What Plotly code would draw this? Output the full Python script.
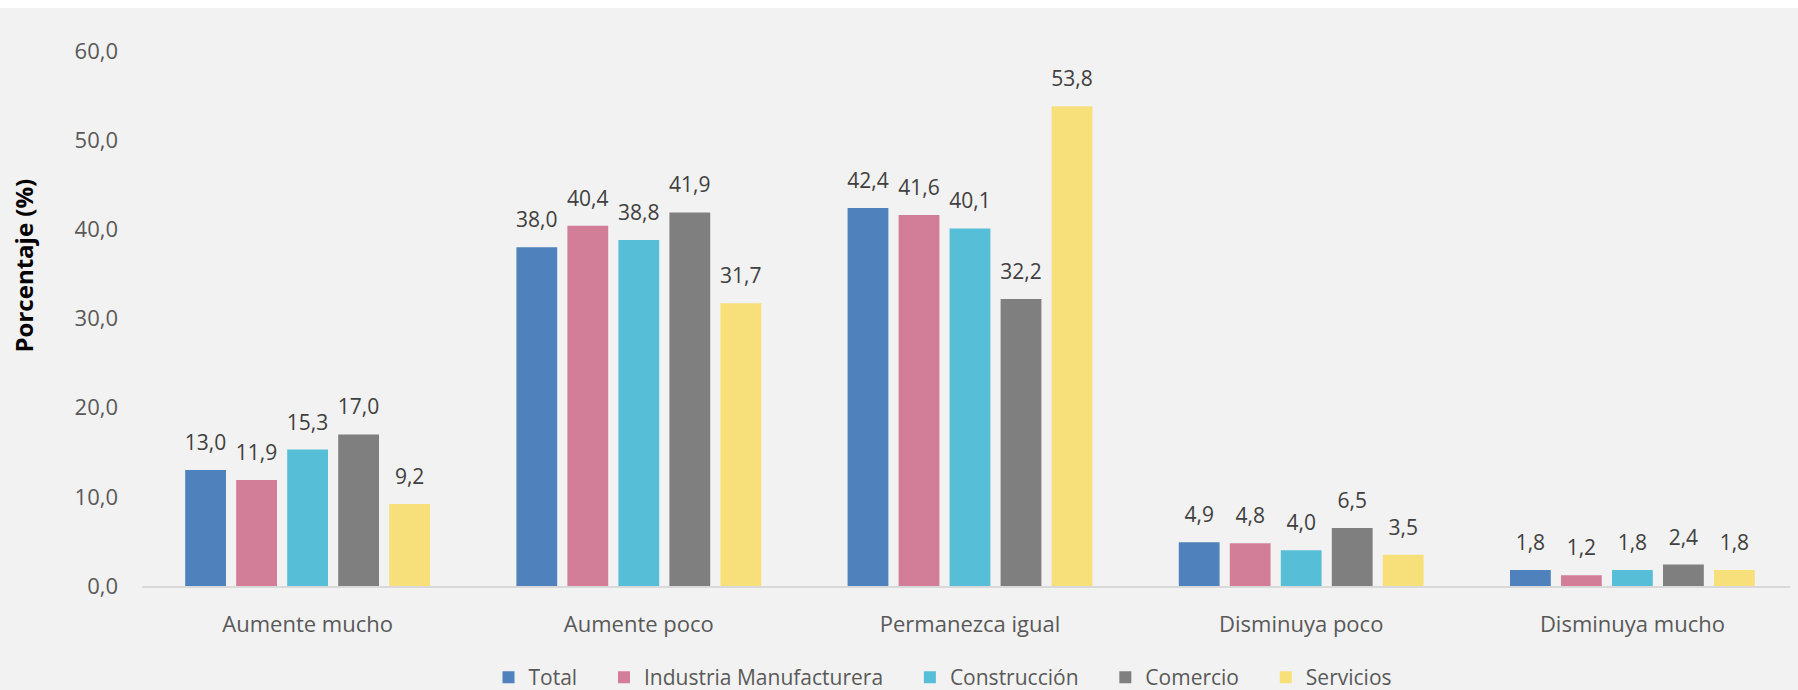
import plotly.graph_objects as go

categories = ["Aumente mucho", "Aumente poco", "Permanezca igual", "Disminuya poco", "Disminuya mucho"]
series_names = ["Total", "Industria Manufacturera", "Construcción", "Comercio", "Servicios"]
total = [13.0, 38.0, 42.4, 4.9, 1.8]
industria = [11.9, 40.4, 41.6, 4.8, 1.2]
construccion = [15.3, 38.8, 40.1, 4.0, 1.8]
comercio = [17.0, 41.9, 32.2, 6.5, 2.4]
servicios = [9.2, 31.7, 53.8, 3.5, 1.8]
colors = ["#4F81BD", "#D37E98", "#56BED6", "#7F7F7F", "#F7E07A"]
y_ticks = [0, 10, 20, 30, 40, 50, 60]

FONT = "Open Sans"
BG = "#F2F2F2"
BARGAP = 0.23
PAD = "\u00a0" * 4
fig = go.Figure()
all_series = [total, industria, construccion, comercio, servicios]
for i, (name, vals, col) in enumerate(zip(series_names, all_series, colors)):
    label = name + (PAD if i < len(series_names) - 1 else "")
    fig.add_trace(go.Bar(
        x=categories, y=vals, name=label,
        marker=dict(color=col, line=dict(width=0)),
        hoverinfo="skip",
    ))
for name, vals in zip(series_names, all_series):
    fig.add_trace(go.Scatter(
        x=categories, y=vals, mode="markers+text", showlegend=False,
        marker=dict(size=22, color="rgba(0,0,0,0)"),
        texttemplate="%{y:.1f}", textposition="top center",
        textfont=dict(family=FONT, size=21, color="#404040"),
        cliponaxis=False, hoverinfo="skip",
    ))

fig.update_layout(
    width=1790, height=690,
    paper_bgcolor=BG, plot_bgcolor=BG,
    separators=",.",
    barmode="group", bargap=BARGAP, bargroupgap=0.2,
    scattermode="group", scattergap=BARGAP,
    margin=dict(l=134, r=0, t=43, b=111),
    font=dict(family=FONT, color="#595959"),
    xaxis=dict(
        showgrid=False, showline=True, linecolor="#D9D9D9", linewidth=2,
        ticks="", ticklabelstandoff=18,
        tickfont=dict(family=FONT, size=22, color="#595959"),
    ),
    yaxis=dict(
        range=[0, 60], tickvals=y_ticks, tickformat=".1f",
        showgrid=False, zeroline=False, showline=False, ticks="",
        ticklabelstandoff=23,
        tickfont=dict(family=FONT, size=22, color="#595959"),
    ),
    legend=dict(
        orientation="h", x=0.4837, xanchor="center", y=-0.170, yanchor="middle",
        font=dict(family=FONT, size=21, color="#595959"),
        bgcolor="rgba(0,0,0,0)", traceorder="normal",
    ),
    annotations=[dict(
        text="<b>Porcentaje (%)</b>", textangle=-90,
        xref="paper", yref="paper", x=-0.0713, y=0.599,
        xanchor="center", yanchor="middle", showarrow=False,
        font=dict(family=FONT, size=24, color="#000000"),
    )],
)

page_bg = ("document.body.style.background="
           "'linear-gradient(#FFFFFF 0px, #FFFFFF 8px, " + BG + " 8px)';")
fig.write_html("out.html", post_script=page_bg)
